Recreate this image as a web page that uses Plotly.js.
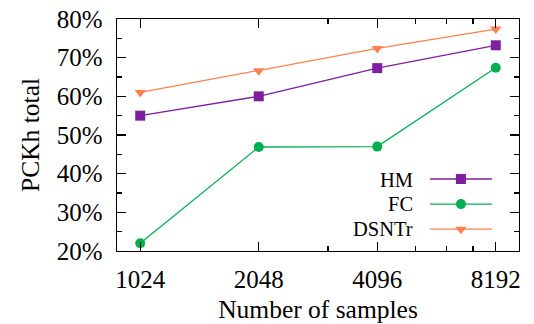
<!DOCTYPE html>
<html>
<head>
<meta charset="utf-8">
<script src="https://cdn.plot.ly/plotly-3.0.1.min.js"></script>
<style>html,body{margin:0;padding:0;background:#fff;}#chart{width:534px;height:324px;}</style>
</head>
<body>
<div id="chart"></div>
<script>
const samples = [1024, 2048, 4096, 8192];
const tickLabels = ['1024', '2048', '4096', '8192'];
const minorSamples = [3072, 5120, 6144, 7168];
const hm = [55.0, 60.0, 67.3, 73.2];
const fc = [22.0, 46.9, 47.0, 67.4];
const dsntr = [61.0, 66.6, 72.4, 77.4];
const seriesNames = ['HM', 'FC', 'DSNTr'];
const yTicks = [20, 30, 40, 50, 60, 70, 80];
const yMinor = [25, 35, 45, 55, 65, 75];

const font = '"Liberation Serif", serif';
const colors = ['#7e1fa0', '#00b050', '#ff7f50'];
const symbols = ['square', 'circle', 'triangle-down'];
const sizes = [10, 10, 10];
// Legend labels are drawn as annotations to the left of the symbols (gnuplot style),
// so the legend entries themselves carry no text.
const data = [hm, fc, dsntr].map((vals, i) => ({
  x: samples, y: vals, name: '', meta: seriesNames[i], type: 'scatter', mode: 'lines+markers',
  line: {color: colors[i], width: 1.3},
  marker: {color: colors[i], symbol: symbols[i], size: sizes[i]}
}));

const axisCommon = {
  showline: true, linecolor: '#000', linewidth: 1.3, mirror: 'allticks',
  ticks: 'inside', ticklen: 9, tickwidth: 1.2, tickcolor: '#000',
  showgrid: false, zeroline: false,
  tickfont: {family: font, size: 25, color: '#000'}
};

const layout = {
  width: 534, height: 324,
  margin: {l: 117, r: 15, t: 19, b: 73, autoexpand: false},
  paper_bgcolor: '#fff', plot_bgcolor: '#fff',
  font: {family: font},
  showlegend: true,
  legend: {
    x: 0.766, y: 0.386, xanchor: 'left', yanchor: 'top',
    bgcolor: 'rgba(0,0,0,0)', itemwidth: 62,
    font: {family: font, size: 17, color: '#000'},
    tracegroupgap: 0, itemclick: false
  },
  xaxis: Object.assign({}, axisCommon, {
    type: 'log', range: [Math.log10(1024) - 0.059, Math.log10(8192) + 0.059],
    tickmode: 'array', tickvals: samples, ticktext: tickLabels,
    ticklabelstandoff: 6,
    minor: {tickmode: 'array', tickvals: minorSamples, ticks: 'inside', ticklen: 5, tickwidth: 1.2, tickcolor: '#000'},
    title: {text: 'Number of samples', font: {family: font, size: 25.5, color: '#000'}, standoff: 11}
  }),
  yaxis: Object.assign({}, axisCommon, {
    range: [20, 80], tickmode: 'array', tickvals: yTicks,
    ticktext: yTicks.map(v => v + '%'),
    ticklabelstandoff: 8,
    minor: {tickmode: 'array', tickvals: yMinor, ticks: 'inside', ticklen: 5, tickwidth: 1.2, tickcolor: '#000'},
    title: {text: 'PCKh total', font: {family: font, size: 25.5, color: '#000'}, standoff: 10}
  }),
  annotations: seriesNames.map((n, i) => ({
    text: n, xref: 'paper', yref: 'paper', x: 0.741, y: 0.308 - i * 0.1065,
    xanchor: 'right', yanchor: 'middle', showarrow: false,
    font: {family: font, size: 20.5, color: '#000'}
  }))
};

Plotly.newPlot('chart', data, layout, {staticPlot: true, displayModeBar: false});
</script>
</body>
</html>
